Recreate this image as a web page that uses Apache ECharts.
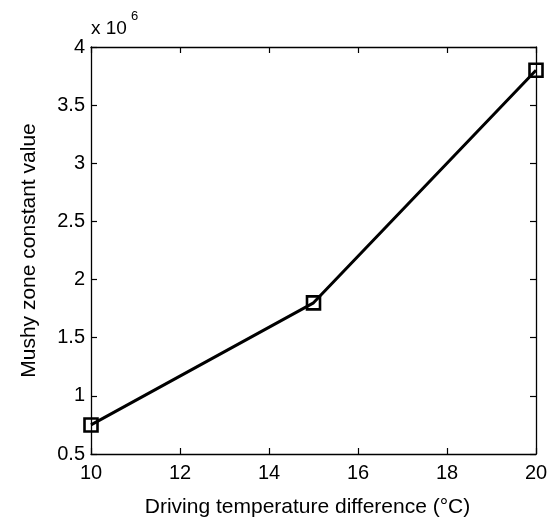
<!DOCTYPE html>
<html>
<head>
<meta charset="utf-8">
<script src="https://cdn.jsdelivr.net/npm/echarts@6/dist/echarts.min.js"></script>
<style>
  html, body { margin: 0; padding: 0; background: #fff; }
  #chart { width: 552px; height: 523px; }
</style>
</head>
<body>
<div id="chart"></div>
<script>
// Driving temperature difference (°C) vs. mushy zone constant
const tempDiff = [10, 15, 20];
const mushyConstant = [0.75e6, 1.8e6, 3.8e6];
const xTicks = { min: 10, max: 20, step: 2 };
const yTicks = { min: 0.5e6, max: 4e6, step: 0.5e6 };

const FONT = 'Liberation Sans, Arial, Helvetica, sans-serif';
const chart = echarts.init(document.getElementById('chart'));

const tickStyle = { inside: true, length: 6, lineStyle: { color: '#000', width: 1.2 } };
const lineStyle = { color: '#000', width: 1.3 };

chart.setOption({
  animation: false,
  backgroundColor: '#fff',
  grid: { left: 91, right: 16, top: 47, bottom: 67, containLabel: false },
  xAxis: [
    {
      type: 'value', position: 'bottom',
      min: xTicks.min, max: xTicks.max, interval: xTicks.step,
      name: 'Driving temperature difference (°C)',
      nameLocation: 'middle', nameGap: 43,
      nameTextStyle: { color: '#000', fontSize: 21, fontFamily: FONT, padding: [0, 12, 0, 0] },
      axisLine: { show: true, lineStyle },
      axisTick: tickStyle,
      axisLabel: { color: '#000', fontSize: 20, fontFamily: FONT, margin: 9 },
      splitLine: { show: false }
    },
    {
      type: 'value', position: 'top',
      min: xTicks.min, max: xTicks.max, interval: xTicks.step,
      axisLine: { show: true, lineStyle },
      axisTick: tickStyle,
      axisLabel: { show: false },
      splitLine: { show: false }
    }
  ],
  yAxis: [
    {
      type: 'value', position: 'left',
      min: yTicks.min, max: yTicks.max, interval: yTicks.step,
      name: 'Mushy zone constant value',
      nameLocation: 'middle', nameGap: 51,
      nameTextStyle: { color: '#000', fontSize: 21, fontFamily: FONT },
      axisLine: { show: true, lineStyle },
      axisTick: tickStyle,
      axisLabel: {
        color: '#000', fontSize: 20, fontFamily: FONT, margin: 6,
        formatter: v => String(+(v / 1e6).toFixed(1))
      },
      splitLine: { show: false }
    },
    {
      type: 'value', position: 'right',
      min: yTicks.min, max: yTicks.max, interval: yTicks.step,
      axisLine: { show: true, lineStyle },
      axisTick: tickStyle,
      axisLabel: { show: false },
      splitLine: { show: false }
    }
  ],
  graphic: [
    { type: 'text', x: 91, y: 29,
      style: { text: 'x 10', fill: '#000', fontSize: 19, fontFamily: FONT, verticalAlign: 'middle' } },
    { type: 'text', x: 131, y: 16,
      style: { text: '6', fill: '#000', fontSize: 13, fontFamily: FONT, verticalAlign: 'middle' } }
  ],
  series: [{
    type: 'line',
    xAxisIndex: 0, yAxisIndex: 0,
    data: tempDiff.map((t, i) => [t, mushyConstant[i]]),
    lineStyle: { color: '#000', width: 3 },
    symbol: 'rect', symbolSize: 13,
    itemStyle: { color: 'rgba(255,255,255,0)', borderColor: '#000', borderWidth: 2.6 },
    clip: false
  }]
});
</script>
</body>
</html>
